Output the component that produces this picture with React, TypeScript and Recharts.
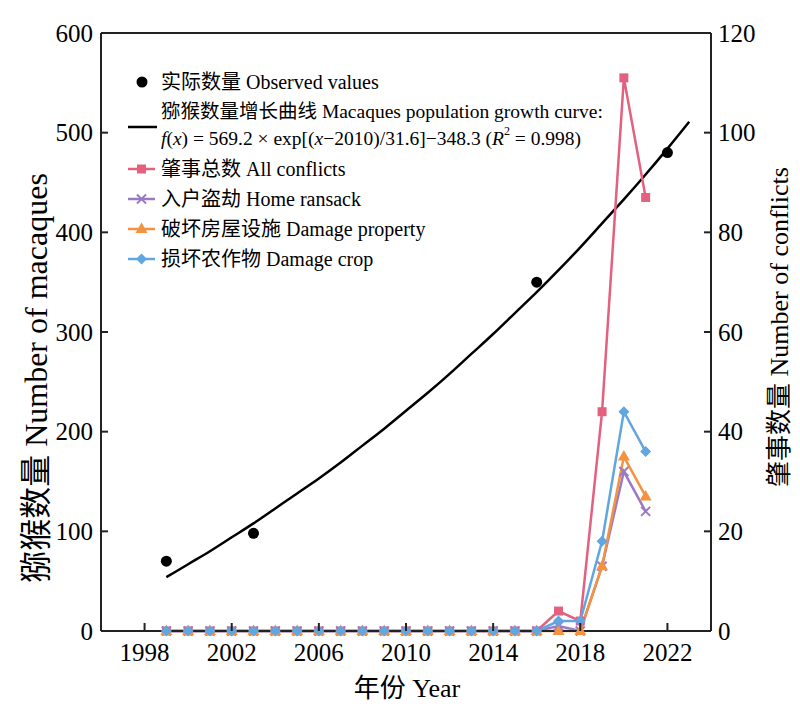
import { LineChart, Line, XAxis, YAxis, ReferenceLine, Customized } from "recharts"

// x values (years) for the rows of the chart
const years = [
  1999, 2000, 2001, 2002, 2003, 2004, 2005, 2006, 2007, 2008, 2009, 2010, 2011,
  2012, 2013, 2014, 2015, 2016, 2017, 2018, 2019, 2020, 2021, 2022, 2023,
]

// fitted growth curve
const growthCurve = [
  54, 67, 80, 94, 108, 123, 138, 153, 169, 186, 203, 221, 239,
  258, 278, 298, 319, 340, 362, 385, 409, 433, 458, 484, 511,
]

const observedYears = [1999, 2003, 2016, 2022]
const observedValues = [70, 98, 350, 480]

// conflicts, 1999 - 2021
const allConflicts = [0, 0, 0, 0, 0, 0, 0, 0, 0, 0, 0, 0, 0, 0, 0, 0, 0, 0, 4, 2, 44, 111, 87]
const homeRansack = [0, 0, 0, 0, 0, 0, 0, 0, 0, 0, 0, 0, 0, 0, 0, 0, 0, 0, 1, 0, 13, 32, 24]
const damageProperty = [0, 0, 0, 0, 0, 0, 0, 0, 0, 0, 0, 0, 0, 0, 0, 0, 0, 0, 0, 0, 13, 35, 27]
const damageCrop = [0, 0, 0, 0, 0, 0, 0, 0, 0, 0, 0, 0, 0, 0, 0, 0, 0, 0, 2, 2, 18, 44, 36]

const xTicks = [1998, 2002, 2006, 2010, 2014, 2018, 2022]
const leftTicks = [0, 100, 200, 300, 400, 500, 600]
const rightTicks = [0, 20, 40, 60, 80, 100, 120]

const PINK = "#E3607F"
const PURPLE = "#9B7AC5"
const ORANGE = "#F5923F"
const BLUE = "#60A7E2"
const AXIS = "#222"
const FONT = "'Liberation Serif', 'Times New Roman', 'Noto Sans CJK SC', serif"

const data = years.map((year, i) => {
  const oi = observedYears.indexOf(year)
  return {
    year,
    curve: growthCurve[i],
    observed: oi >= 0 ? observedValues[oi] : null,
    all: i < allConflicts.length ? allConflicts[i] : null,
    ransack: i < homeRansack.length ? homeRansack[i] : null,
    property: i < damageProperty.length ? damageProperty[i] : null,
    crop: i < damageCrop.length ? damageCrop[i] : null,
  }
})

type Mark = "square" | "cross" | "triangle" | "diamond"

function marker(kind: Mark, color: string, cx: number, cy: number, key?: any) {
  if (kind === "square") return <rect key={key} x={cx - 4.5} y={cy - 4.5} width={9} height={9} fill={color} />
  if (kind === "cross")
    return (
      <g key={key} stroke={color} strokeWidth={2}>
        <line x1={cx - 4.5} y1={cy - 4.5} x2={cx + 4.5} y2={cy + 4.5} />
        <line x1={cx - 4.5} y1={cy + 4.5} x2={cx + 4.5} y2={cy - 4.5} />
      </g>
    )
  if (kind === "triangle")
    return <polygon key={key} points={`${cx},${cy - 6.5} ${cx - 6},${cy + 4} ${cx + 6},${cy + 4}`} fill={color} />
  return <polygon key={key} points={`${cx},${cy - 5.5} ${cx + 5.5},${cy} ${cx},${cy + 5.5} ${cx - 5.5},${cy}`} fill={color} />
}

const dotFor = (kind: Mark, color: string) => (props: any) => {
  const { cx, cy, index, value } = props
  if (value == null || cy == null) return <g key={index} />
  return marker(kind, color, cx, cy, index)
}

const LeftTick = ({ x, y, payload }: any) => (
  <g>
    <line x1={x + 8} x2={x + 15} y1={y} y2={y} stroke={AXIS} strokeWidth={2} />
    <text x={x} y={y} textAnchor="end" dominantBaseline="central" fontSize={25} fontFamily={FONT} fill="#000">
      {payload.value}
    </text>
  </g>
)

const RightTick = ({ x, y, payload }: any) => (
  <g>
    <line x1={x - 7} x2={x - 14} y1={y} y2={y} stroke={AXIS} strokeWidth={2} />
    <text x={x} y={y} textAnchor="start" dominantBaseline="central" fontSize={25} fontFamily={FONT} fill="#000">
      {payload.value}
    </text>
  </g>
)

const BottomTick = ({ x, y, payload }: any) => (
  <g>
    <line x1={x} x2={x} y1={y - 21} y2={y - 29} stroke={AXIS} strokeWidth={2} />
    <text x={x} y={y} textAnchor="middle" dominantBaseline="central" fontSize={25} fontFamily={FONT} fill="#000">
      {payload.value}
    </text>
  </g>
)

const legendRows: Array<{ kind: Mark; color: string; label: string; y: number }> = [
  { kind: "square", color: PINK, label: "肇事总数 All conflicts", y: 169 },
  { kind: "cross", color: PURPLE, label: "入户盗劫 Home ransack", y: 199 },
  { kind: "triangle", color: ORANGE, label: "破坏房屋设施 Damage property", y: 229 },
  { kind: "diamond", color: BLUE, label: "损坏农作物 Damage crop", y: 259 },
]

const Overlay = () => (
  <g fontFamily={FONT} fill="#000">
    {/* legend */}
    <circle cx={142} cy={82} r={5.5} fill="#000" />
    <text x={161} y={82} fontSize={20} dominantBaseline="central">实际数量 Observed values</text>
    <text x={161} y={111} fontSize={19.5} dominantBaseline="central">猕猴数量增长曲线 Macaques population growth curve:</text>
    <line x1={128} x2={157} y1={127} y2={127} stroke="#000" strokeWidth={2.5} />
    <text x={161} y={138} fontSize={19.5} dominantBaseline="central">
      <tspan fontStyle="italic">f</tspan>(<tspan fontStyle="italic">x</tspan>) = 569.2 × exp[(<tspan fontStyle="italic">x</tspan>−2010)/31.6]−348.3 (<tspan fontStyle="italic">R</tspan>
      <tspan fontSize={12} dy={-7}>2</tspan>
      <tspan dy={7}> = 0.998)</tspan>
    </text>
    {legendRows.map((r) => (
      <g key={r.label}>
        <line x1={128} x2={155} y1={r.y} y2={r.y} stroke={r.color} strokeWidth={2.5} />
        {marker(r.kind, r.color, 141.5, r.y)}
        <text x={161} y={r.y} fontSize={20} dominantBaseline="central">{r.label}</text>
      </g>
    ))}
    {/* axis titles */}
    <text x={36} y={378} fontSize={32} textAnchor="middle" dominantBaseline="central" transform="rotate(-90 36 378)">
      猕猴数量 Number of macaques
    </text>
    <text x={779} y={327} fontSize={26} textAnchor="middle" dominantBaseline="central" transform="rotate(-90 779 327)">
      肇事数量 Number of conflicts
    </text>
    <text x={407} y={688} fontSize={26} textAnchor="middle" dominantBaseline="central">
      年份 Year
    </text>
  </g>
)

export default function App() {
  return (
    <div style={{ position: "absolute", left: 0, top: 0, width: 800, height: 712, background: "#fff" }}>
      <LineChart width={800} height={712} data={data} margin={{ top: 33, right: 0, left: 0, bottom: 0 }}>
        <XAxis
          dataKey="year"
          type="number"
          domain={[1996, 2024]}
          ticks={xTicks}
          height={81}
          tickSize={0}
          tickMargin={21}
          tickLine={false}
          tick={<BottomTick />}
          axisLine={{ stroke: AXIS, strokeWidth: 2 }}
        />
        <YAxis
          yAxisId="left"
          domain={[0, 600]}
          ticks={leftTicks}
          width={101}
          tickSize={0}
          tickMargin={8}
          tickLine={false}
          tick={<LeftTick />}
          axisLine={{ stroke: AXIS, strokeWidth: 2 }}
        />
        <YAxis
          yAxisId="right"
          orientation="right"
          domain={[0, 120]}
          ticks={rightTicks}
          width={89}
          tickSize={0}
          tickMargin={7}
          tickLine={false}
          tick={<RightTick />}
          axisLine={{ stroke: AXIS, strokeWidth: 2 }}
        />
        <ReferenceLine yAxisId="left" y={600} stroke={AXIS} strokeWidth={2} />
        <Line
          yAxisId="left"
          dataKey="curve"
          type="monotone"
          stroke="#000"
          strokeWidth={2.5}
          dot={false}
          activeDot={false}
          isAnimationActive={false}
        />
        <Line
          yAxisId="left"
          dataKey="observed"
          stroke="none"
          dot={{ r: 5.5, fill: "#000", stroke: "#000", strokeWidth: 0 }}
          activeDot={false}
          isAnimationActive={false}
        />
        <Line yAxisId="right" dataKey="all" stroke={PINK} strokeWidth={2.5} dot={dotFor("square", PINK)} activeDot={false} isAnimationActive={false} />
        <Line yAxisId="right" dataKey="ransack" stroke={PURPLE} strokeWidth={2.5} dot={dotFor("cross", PURPLE)} activeDot={false} isAnimationActive={false} />
        <Line yAxisId="right" dataKey="property" stroke={ORANGE} strokeWidth={2.5} dot={dotFor("triangle", ORANGE)} activeDot={false} isAnimationActive={false} />
        <Line yAxisId="right" dataKey="crop" stroke={BLUE} strokeWidth={2.5} dot={dotFor("diamond", BLUE)} activeDot={false} isAnimationActive={false} />
        <Customized component={Overlay} />
      </LineChart>
    </div>
  )
}
